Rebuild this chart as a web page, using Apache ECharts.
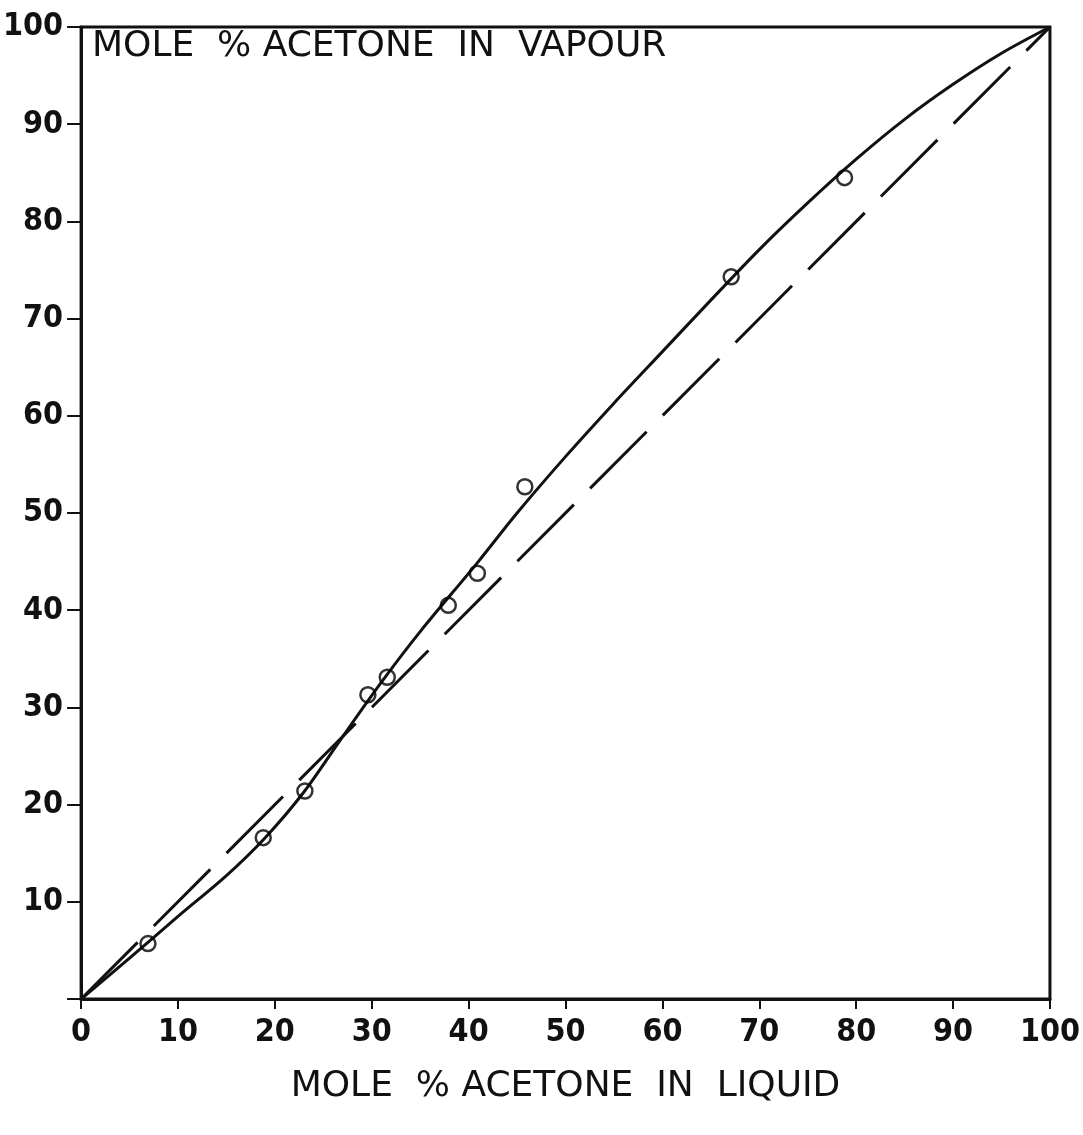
<!DOCTYPE html>
<html>
<head>
<meta charset="utf-8">
<script src="https://cdn.jsdelivr.net/npm/echarts@6/dist/echarts.min.js"></script>
<style>
html,body{margin:0;padding:0;background:#fff;}
#chart{width:1083px;height:1135px;}
</style>
</head>
<body>
<div id="chart"></div>
<script>
// Smoothed equilibrium curve (liquid %, vapour %)
const curveX = [0, 5, 10, 15, 19, 23, 27, 31, 35, 41, 45, 50, 55, 60, 65, 70, 75, 80, 85, 90, 95, 100];
const curveY = [0, 4.2, 8.5, 12.7, 16.6, 21.3, 27.0, 32.6, 37.8, 45.0, 50.0, 55.8, 61.3, 66.6, 71.9, 77.1, 81.9, 86.4, 90.5, 94.1, 97.3, 100];
// Measured points
const pointsX = [6.9, 18.8, 23.1, 29.6, 31.6, 37.9, 40.9, 45.8, 67.1, 78.8];
const pointsY = [5.7, 16.6, 21.4, 31.3, 33.1, 40.5, 43.8, 52.7, 74.3, 84.5];
// Diagonal y = x
const diagX = [0, 100];
const diagY = [0, 100];

const chart = echarts.init(document.getElementById('chart'));
const labelFont = '"DejaVu Sans Condensed", "DejaVu Sans", sans-serif';
const titleFont = '"DejaVu Sans", sans-serif';
chart.setOption({
  animation: false,
  backgroundColor: '#fff',
  grid: {left: 81, right: 33, top: 27, bottom: 136, show: true, borderColor: '#111', borderWidth: 3, backgroundColor: 'transparent'},
  graphic: [{
    type: 'text', left: 92, top: 29,
    style: {text: 'MOLE  % ACETONE  IN  VAPOUR', fontSize: 36, fontFamily: titleFont, fill: '#111'}
  }],
  xAxis: {
    type: 'value', min: 0, max: 100, interval: 10,
    name: 'MOLE  % ACETONE  IN  LIQUID', nameLocation: 'middle', nameGap: 70,
    nameTextStyle: {fontSize: 36, fontFamily: titleFont, color: '#111'},
    axisLine: {lineStyle: {color: '#111', width: 3}},
    axisTick: {length: 10, lineStyle: {color: '#111', width: 2}},
    axisLabel: {margin: 18, fontSize: 32, fontWeight: 'bold', fontFamily: labelFont, color: '#111'},
    splitLine: {show: false}
  },
  yAxis: {
    type: 'value', min: 0, max: 100, interval: 10,
    axisLine: {show: true, lineStyle: {color: '#111', width: 3}},
    axisTick: {show: true, length: 14, lineStyle: {color: '#111', width: 2}},
    axisLabel: {margin: 18, fontSize: 32, fontWeight: 'bold', fontFamily: labelFont, color: '#111',
      formatter: v => v === 0 ? '' : String(v)},
    splitLine: {show: false}
  },
  series: [
    {
      type: 'line', data: curveX.map((x, i) => [x, curveY[i]]),
      smooth: 0.3, symbol: 'none',
      lineStyle: {color: '#111', width: 3}
    },
    {
      type: 'line', data: diagX.map((x, i) => [x, diagY[i]]),
      symbol: 'none',
      lineStyle: {color: '#111', width: 3, type: [80, 23]}
    },
    {
      type: 'scatter', data: pointsX.map((x, i) => [x, pointsY[i]]),
      symbol: 'circle', symbolSize: 15,
      itemStyle: {color: 'transparent', borderColor: '#000', borderWidth: 2.5},
      z: 5
    }
  ]
});
</script>
</body>
</html>
